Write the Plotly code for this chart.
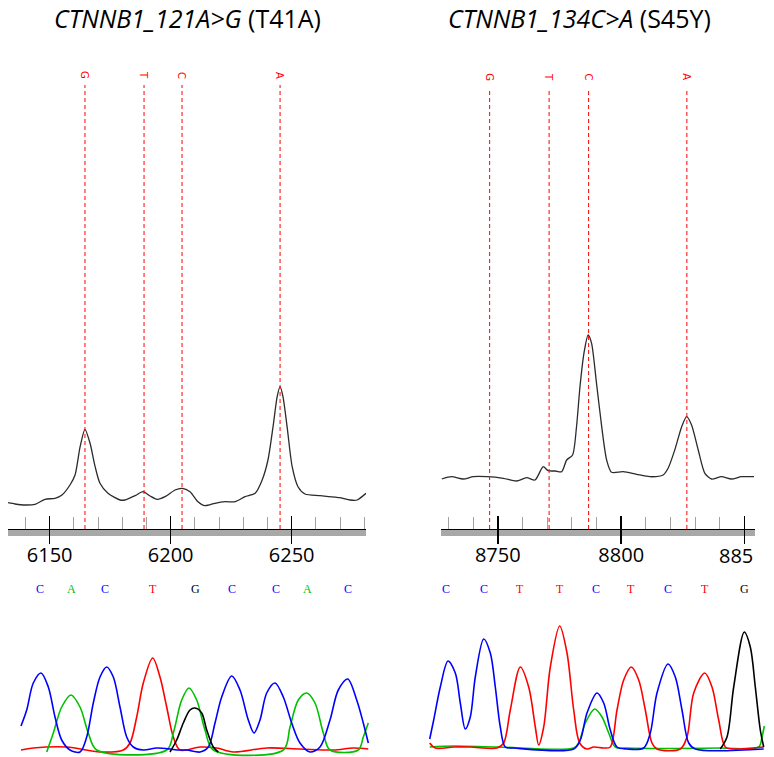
import plotly.graph_objects as go

W, H = 774, 757

# ---------------- data ----------------
titles = ["<i>CTNNB1_121A&gt;G</i> (T41A)", "<i>CTNNB1_134C&gt;A</i> (S45Y)"]

# mass spectra (m/z, intensity)
ms_left_mz = [6132.8, 6135.7, 6139.8, 6144.0, 6148.1, 6152.2, 6155.1, 6158.4, 6160.5, 6162.6,
              6164.6, 6166.7, 6168.8, 6170.8, 6174.1, 6179.1, 6181.1, 6185.3, 6188.6, 6191.5,
              6194.4, 6197.7, 6201.8, 6204.7, 6208.0, 6211.3, 6214.2, 6218.3, 6222.5, 6226.6,
              6230.7, 6234.9, 6237.8, 6240.2, 6242.3, 6244.0, 6245.2, 6246.4, 6248.1, 6250.2,
              6252.6, 6255.5, 6261.7, 6270.0, 6274.1, 6277.0, 6280.7]
ms_left_int = [263, 250, 240, 247, 297, 307, 340, 440, 540, 823,
               997, 857, 623, 457, 357, 290, 290, 333, 373, 330,
               297, 323, 390, 407, 373, 273, 233, 257, 273, 273,
               323, 357, 490, 690, 1023, 1323, 1423, 1323, 1023, 623,
               423, 350, 333, 313, 290, 290, 357]

ms_right_mz = [8727.3, 8731.3, 8736.0, 8740.1, 8745.5, 8752.2, 8757.6, 8761.7, 8765.1, 8768.4,
               8770.4, 8773.2, 8775.9, 8777.9, 8780.3, 8781.9, 8783.3, 8784.9, 8786.6, 8788.0,
               8790.0, 8792.1, 8794.1, 8796.1, 8800.8, 8806.2, 8811.6, 8817.0, 8819.0, 8821.7,
               8824.5, 8826.5, 8828.5, 8831.2, 8833.9, 8836.6, 8840.6, 8844.7, 8848.7, 8853.8]
ms_right_int = [500, 523, 500, 523, 523, 507, 480, 513, 490, 623,
                583, 580, 573, 690, 740, 1023, 1423, 1757, 1940, 1857,
                1457, 1023, 690, 567, 573, 547, 523, 540, 607, 790,
                1023, 1123, 1040, 790, 557, 500, 523, 500, 523, 523]

# expected allele marker positions
marker_labels = ["G", "T", "C", "A"]
marker_left_mz = [6164.6, 6189.0, 6204.7, 6245.2]
marker_right_mz = [8746.7, 8770.8, 8786.8, 8826.6]
marker_top = 4440

# axis ticks
left_range = [6132.8, 6280.7]
right_range = [8727.0, 8854.2]
left_major = [6150, 6200, 6250]
left_major_text = ["6150", "6200", "6250"]
right_major = [8750, 8800, 8850]
right_major_text = ["8750", "8800", ""]
right_clipped_label = "885"

# Sanger base calls (trace position, base)
calls_left_pos = [40, 71, 105, 153, 195, 232, 276, 307, 348]
calls_left = ["C", "A", "C", "T", "G", "C", "C", "A", "C"]
calls_right_pos = [59, 96.7, 133.3, 173.3, 209.3, 244.3, 281, 317.7, 357.3]
calls_right = ["C", "C", "T", "T", "C", "T", "C", "T", "G"]

# chromatogram traces (position, signal)
chl_blue_x = [21, 26.7, 33.3, 41, 48.3, 55, 61.7, 70, 80, 86.7, 93.3, 100, 106.7, 113.3, 120, 126.7,
              133.3, 143.3, 156.7, 170, 176.7, 186.7, 200, 208.3, 215, 221.7, 231.7, 240, 248.3, 254,
              260, 266.7, 275, 283.3, 291.7, 300, 310, 320, 330, 338.3, 347.7, 356.7, 363.3, 368.3]
chl_blue_y = [23, 39, 66, 76, 62, 32, 9, -1, -3, 12, 46, 72, 82, 72, 42, 12,
              2, -1, 1, 0, -1, -1, -3, 2, 26, 52, 73, 59, 29, 16,
              29, 56, 66, 52, 26, 6, -3, 2, 29, 59, 70, 49, 26, 6]
chl_green_x = [46.7, 53.3, 61.7, 71, 80, 88.3, 96.7, 166.7, 173.3, 181.7, 189, 196.7, 205, 213.3,
               283.3, 290, 298.3, 306.7, 315, 323.3, 330, 358.3, 363.3, 368.3]
chl_green_y = [-3, 16, 42, 54, 42, 16, -1, -1, 16, 49, 61, 49, 19, -1,
               -1, 22, 49, 56, 46, 16, -1, -1, 12, 26]
chl_red_x = [21, 33.3, 66.7, 100, 123.3, 130, 136.7, 143.3, 152.7, 160, 166.7, 173.3, 180, 200,
             216.7, 233.3, 266.7, 300, 333.3, 353.3, 368.3]
chl_red_y = [-1, 1, 2, -3, -1, 6, 32, 66, 91, 72, 42, 12, -1, 2,
             1, -3, 1, 0, -1, 1, 0]
chl_black_x = [170, 176.7, 183.3, 190, 195, 201.7, 206.7, 213.3, 218.3]
chl_black_y = [-3, 9, 26, 39, 41, 36, 19, 2, -3]

chr_blue_x = [42.7, 46.7, 53.3, 61, 68.3, 73.3, 78.3, 83.3, 88.3, 96.7, 103.3, 108.3, 113.3, 118.3,
              126.7, 186.7, 193.3, 200, 210, 216.7, 223.3, 230, 240, 256.7, 263.3, 270, 281, 288.3,
              295, 301.7, 308.3, 376.7]
chr_blue_y = [10, 29, 62, 88, 76, 46, 20, 32, 72, 110, 96, 62, 22, 2,
              1, 0, 9, 36, 56, 46, 19, 2, 0, 1, 16, 56, 85, 72,
              39, 6, 0, 0]
chr_red_x = [42.7, 48.3, 66.7, 83.3, 110, 116.7, 123.3, 133.3, 141.7, 148.3, 151.7, 156.7, 163.3,
             172.7, 180, 186.7, 192.7, 200, 206.7, 216.7, 223.3, 230, 236.7, 244.3, 251.7, 258.3,
             265, 270, 293.3, 300, 306.7, 317.7, 325, 331.7, 338.3, 346.7, 366.7, 376.7]
chr_red_y = [6, 1, 2, 2, 1, 6, 39, 82, 62, 22, 4, 22, 82,
             123, 96, 39, 6, 0, 2, 1, 2, 39, 69, 82, 69, 39,
             6, 0, 0, 12, 56, 76, 62, 29, 2, 0, 1, 2]
chr_green_x = [42.7, 66.7, 110, 186.7, 191.7, 198.3, 207.7, 215, 221.7, 228.3, 240, 333.3, 371.7, 375, 377.3]
chr_green_y = [2, 3, 2, 1, 6, 26, 40, 32, 16, 2, 1, 1, 2, 12, 23]
chr_black_x = [333.3, 340, 346.7, 357.3, 363.3, 368.3, 373.3, 376.7]
chr_black_y = [0, 12, 62, 117, 102, 62, 19, 2]

# ---------------- styles ----------------
BASE_COLORS = {"A": "#00c000", "C": "#0000ff", "G": "#000000", "T": "#ff0000"}
MARK_RED = "#ff0000"


def px_x(p):
    return p / W


def px_y(p):
    return 1 - p / H


fig = go.Figure()

# mass spectra
fig.add_trace(go.Scatter(x=ms_left_mz, y=ms_left_int, mode="lines", xaxis="x", yaxis="y",
                         line=dict(color="#2b2b2b", width=1.3, shape="spline", smoothing=0.7),
                         hoverinfo="skip", showlegend=False))
fig.add_trace(go.Scatter(x=ms_right_mz, y=ms_right_int, mode="lines", xaxis="x3", yaxis="y3",
                         line=dict(color="#2b2b2b", width=1.3, shape="spline", smoothing=0.7),
                         hoverinfo="skip", showlegend=False))


def vlines(xs, top):
    X, Y = [], []
    for v in xs:
        X += [v, v, None]
        Y += [0, top, None]
    return X, Y


lx, ly = vlines(marker_left_mz, marker_top)
fig.add_trace(go.Scatter(x=lx, y=ly, mode="lines", xaxis="x2", yaxis="y",
                         line=dict(color=MARK_RED, width=1, dash="4px,3px"),
                         hoverinfo="skip", showlegend=False))
rx, ry = vlines(marker_right_mz, marker_top - 30)
fig.add_trace(go.Scatter(x=rx, y=ry, mode="lines", xaxis="x4", yaxis="y3",
                         line=dict(color=MARK_RED, width=1, dash="4px,3px"),
                         hoverinfo="skip", showlegend=False))

# chromatograms
for xs, ys, col in [(chl_red_x, chl_red_y, "#ff0000"), (chl_green_x, chl_green_y, "#00c000"),
                    (chl_blue_x, chl_blue_y, "#0000ff"), (chl_black_x, chl_black_y, "#000000")]:
    fig.add_trace(go.Scatter(x=xs, y=ys, mode="lines", xaxis="x5", yaxis="y5",
                             line=dict(color=col, width=1.6, shape="spline", smoothing=0.9),
                             hoverinfo="skip", showlegend=False))
for xs, ys, col in [(chr_green_x, chr_green_y, "#00c000"), (chr_red_x, chr_red_y, "#ff0000"),
                    (chr_blue_x, chr_blue_y, "#0000ff"), (chr_black_x, chr_black_y, "#000000")]:
    fig.add_trace(go.Scatter(x=xs, y=ys, mode="lines", xaxis="x6", yaxis="y6",
                             line=dict(color=col, width=1.6, shape="spline", smoothing=0.9),
                             hoverinfo="skip", showlegend=False))

ms_ydom = [px_y(529), px_y(60)]
ms_yrange = [0, 4690]
tickfont = dict(family="Open Sans", size=20, color="#000000")

hidden = dict(visible=False, showgrid=False, zeroline=False, fixedrange=True)


def main_axis(dom, rng, anchor, majors):
    # axis line + lower (outside) halves of the major ticks
    return dict(domain=dom, range=rng, anchor=anchor,
                showgrid=False, zeroline=False, showline=True, linecolor="#000", linewidth=1,
                ticks="outside", ticklen=14, tickwidth=1.5, tickcolor="#000",
                tickmode="array", tickvals=majors, showticklabels=False, fixedrange=True)


def overlay_axis(dom, rng, anchor, over, majors, labels, t0):
    # upper (inside) halves of the major ticks, minor ticks and labels
    return dict(domain=dom, range=rng, anchor=anchor, overlaying=over,
                showgrid=False, zeroline=False, showline=False,
                ticks="inside", ticklen=13, tickwidth=1.5, tickcolor="#000",
                tickmode="array", tickvals=majors, ticktext=labels, showticklabels=True,
                tickfont=tickfont, ticklabelstandoff=12,
                minor=dict(ticks="inside", ticklen=12, tickwidth=1, tickcolor="#a0a0a0",
                           tick0=t0, dtick=10),
                fixedrange=True)


ldom = [px_x(8), px_x(366)]
rdom = [px_x(441), px_x(755)]

fig.update_layout(
    width=W, height=H, margin=dict(l=0, r=0, t=0, b=0), autosize=False,
    paper_bgcolor="white", plot_bgcolor="white",
    showlegend=False,
    xaxis=main_axis(ldom, left_range, "y", left_major),
    xaxis2=overlay_axis(ldom, left_range, "y", "x", left_major, left_major_text, 6130),
    yaxis=dict(domain=ms_ydom, range=ms_yrange, **hidden),
    xaxis3=main_axis(rdom, right_range, "y3", right_major),
    xaxis4=overlay_axis(rdom, right_range, "y3", "x3", right_major, right_major_text, 8730),
    yaxis3=dict(domain=ms_ydom, range=ms_yrange, **hidden),
    xaxis5=dict(domain=[0, 0.5], range=[0, 387], anchor="y5", **hidden),
    yaxis5=dict(domain=[0, px_y(610)], range=[-8, 139], anchor="x5", **hidden),
    xaxis6=dict(domain=[0.5, 1], range=[0, 387], anchor="y6", **hidden),
    yaxis6=dict(domain=[0, px_y(610)], range=[-8, 139], anchor="x6", **hidden),
)

# gray scale bars under the m/z axes
for xr in ["x", "x3"]:
    fig.add_shape(type="rect", xref=f"{xr} domain", yref="paper", x0=0, x1=1,
                  y0=px_y(536), y1=px_y(529.5), fillcolor="#a8a8a8", line_width=0, layer="below")

ann = []
# titles
for t, cx in zip(titles, [187, 579.5]):
    ann.append(dict(text=t, x=px_x(cx), y=px_y(18), xref="paper", yref="paper",
                    xanchor="center", yanchor="middle", showarrow=False,
                    font=dict(family="Open Sans", size=25, color="#000")))
# marker labels
for lab, xv in zip(marker_labels, marker_left_mz):
    ann.append(dict(text=lab, x=xv, y=px_y(75), xref="x", yref="paper", textangle=90,
                    showarrow=False, xanchor="center", yanchor="middle",
                    font=dict(family="DejaVu Sans", size=10, color=MARK_RED)))
for lab, xv in zip(marker_labels, marker_right_mz):
    ann.append(dict(text=lab, x=xv, y=px_y(77), xref="x3", yref="paper", textangle=90,
                    showarrow=False, xanchor="center", yanchor="middle",
                    font=dict(family="DejaVu Sans", size=10, color=MARK_RED)))
# clipped right tick label
ann.append(dict(text=right_clipped_label, x=right_range[1], y=px_y(555), xref="x3", yref="paper",
                xanchor="right", yanchor="middle", showarrow=False, font=tickfont))
# base calls
for pos, b in zip(calls_left_pos, calls_left):
    ann.append(dict(text=b, x=pos, y=px_y(589), xref="x5", yref="paper", showarrow=False,
                    xanchor="center", yanchor="middle",
                    font=dict(family="Liberation Serif", size=12, color=BASE_COLORS[b])))
for pos, b in zip(calls_right_pos, calls_right):
    ann.append(dict(text=b, x=pos, y=px_y(589), xref="x6", yref="paper", showarrow=False,
                    xanchor="center", yanchor="middle",
                    font=dict(family="Liberation Serif", size=12, color=BASE_COLORS[b])))
fig.update_layout(annotations=ann)

fig.write_html("out.html", config={"displayModeBar": False, "staticPlot": True},
               post_script="document.body.style.margin='0';document.body.style.padding='0';"
                           "document.documentElement.style.overflow='hidden';")
